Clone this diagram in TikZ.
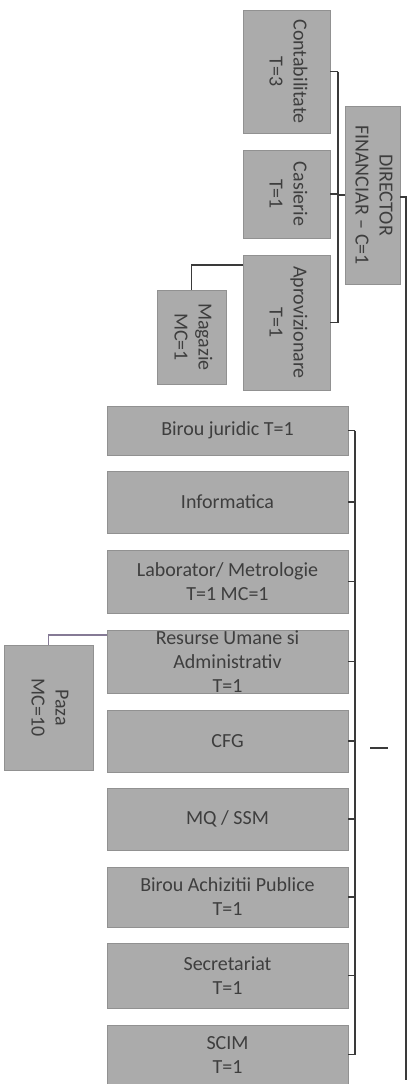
\documentclass[tikz,border=0pt]{standalone}
\usepackage{fontspec}
\setmainfont{Carlito}
\definecolor{boxfill}{HTML}{ABABAB}
\definecolor{boxtext}{HTML}{3E3E3E}
\definecolor{linecol}{HTML}{3A3A3A}
\definecolor{pazaline}{HTML}{857A95}
\newcommand{\rt}[1]{\rotatebox{-90}{\begin{tabular}{@{}c@{}}#1\end{tabular}}}
\begin{document}
\begin{tikzpicture}[x=1pt,y=-1pt,
  box/.style={fill=boxfill,draw=boxfill!85!black,line width=0.4pt,inner sep=0pt,
    text=boxtext,font=\fontsize{20}{24}\selectfont,align=center},
  lowbox/.style={box,minimum width=241pt},
  conn/.style={draw=linecol,line width=1.4pt},
  thin/.style={draw=linecol,line width=1.2pt}]
\useasboundingbox[fill=white] (0,0) rectangle (408,1084);
% upper financial group
\node[box,minimum width=87pt,minimum height=123pt] (conta) at (286.5,71.5) {\rt{Contabilitate\\T=3}};
\node[box,minimum width=87pt,minimum height=88pt] (casie) at (286.5,194) {\rt{Casierie\\T=1}};
\node[box,minimum width=87pt,minimum height=135pt] (aprov) at (286.5,322.5) {\rt{Aprovizionare\\T=1}};
\node[box,minimum width=69pt,minimum height=94pt] (magaz) at (191.5,337) {\rt{Magazie\\MC=1}};
\node[box,minimum width=55pt,minimum height=178pt] (dirfin) at (372.5,195) {\rt{DIRECTOR\\FINANCIAR – C=1}};
% lower group
\node[lowbox,minimum height=49pt] (jurid) at (227.5,430.5) {Birou juridic T=1};
\node[lowbox,minimum height=62pt] (infor) at (227.5,502) {Informatica};
\node[lowbox,minimum height=63pt] (labor) at (227.5,581.5) {Laborator/ Metrologie\\T=1 MC=1};
\node[lowbox,minimum height=63pt] (resum) at (227.5,661.5) {Resurse Umane si\\Administrativ\\T=1};
\node[lowbox,minimum height=62pt] (cfg) at (227.5,741) {CFG};
\node[lowbox,minimum height=62pt] (mqssm) at (227.5,819) {MQ / SSM};
\node[lowbox,minimum height=60pt] (achiz) at (227.5,897) {Birou Achizitii Publice\\T=1};
\node[lowbox,minimum height=65pt] (secre) at (227.5,975.5) {Secretariat\\T=1};
\node[lowbox,minimum height=59pt] (scim) at (227.5,1054.5) {SCIM\\T=1};
\node[box,minimum width=89pt,minimum height=125pt] (paza) at (48.5,707.5) {\rt{Paza\\MC=10}};
% coordinates
\coordinate (ubr) at (338,0);
\coordinate (lbr) at (355,0);
\coordinate (bigtop) at (406,197);
\coordinate (bigbot) at (406,1080);
\coordinate (stubA) at (370,748);
\coordinate (stubB) at (388,748);
\coordinate (magA) at (243,265);
\coordinate (pazA) at (107,635);
% upper bracket
\draw[thin] (conta.east) -- (conta.east -| ubr);
\draw[thin] (casie.east) -- (casie.east -| ubr);
\draw[thin] (aprov.east) -- (aprov.east -| ubr);
\draw[thin] (conta.east -| ubr) -- (aprov.east -| ubr);
\draw[thin] (dirfin.west) -- (dirfin.west -| ubr);
% main vertical line
\draw[conn] (dirfin.east |- bigtop) -- (bigtop) -- (bigbot);
% lower bracket
\foreach \n in {jurid,infor,labor,resum,cfg,mqssm,achiz,secre,scim}
  \draw[thin] (\n.east) -- (\n.east -| lbr);
\draw[conn] (jurid.east -| lbr) -- (scim.east -| lbr);
\draw[conn] (stubA) -- (stubB);
% magazie connector
\draw[thin] (magA) -| (magaz.north);
% paza connector
\draw[draw=pazaline,line width=1.2pt] (pazA) -| (paza.north);
\end{tikzpicture}
\end{document}
